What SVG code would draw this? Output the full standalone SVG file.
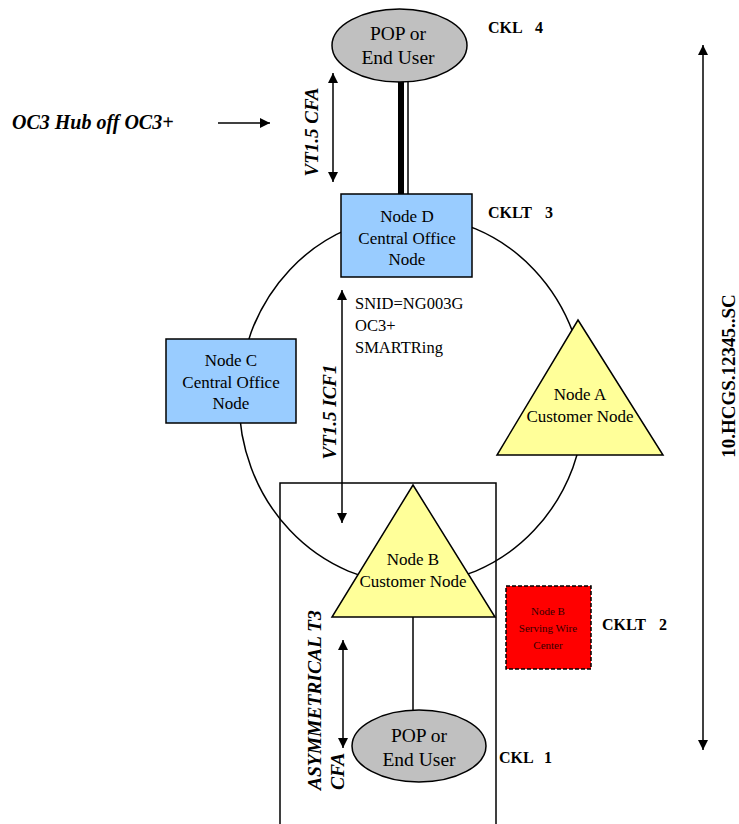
<svg xmlns="http://www.w3.org/2000/svg" width="739" height="824" viewBox="0 0 739 824">
<defs>
<marker id="ah" viewBox="0 0 10 10" refX="10" refY="5" markerWidth="10" markerHeight="10" markerUnits="userSpaceOnUse" orient="auto-start-reverse">
<path d="M0,0 L10,5 L0,10 z" fill="#000"/>
</marker>
<style>
text{font-family:"Liberation Serif","DejaVu Serif","Times New Roman",serif}
.ln{stroke:#000;stroke-width:1.5;fill:none}
.arr{stroke:#000;stroke-width:1.5;fill:none;marker-start:url(#ah);marker-end:url(#ah)}
.t{font-size:17px;fill:#000;text-anchor:middle}
.p{font-size:19.5px;fill:#000;text-anchor:middle}
.s{font-size:11px;fill:#330000;text-anchor:middle}
.ck{font-size:16px;font-weight:bold;fill:#000}
.bi{font-size:19px;font-weight:bold;font-style:italic;fill:#000}
.r{font-size:16.5px;fill:#000}
.blue{fill:#99CCFF;stroke:#000;stroke-width:1.5}
.yel{fill:#FFFF99;stroke:#000;stroke-width:1.5}
.gray{fill:#C0C0C0;stroke:#000;stroke-width:1.5}
</style>
</defs>
<rect width="739" height="824" fill="#fff"/>

<g id="connectors">
<ellipse class="ln" cx="412" cy="400" rx="173" ry="184"/>
<rect class="ln" x="280" y="483" width="216" height="345"/>
<line x1="401" y1="80" x2="401" y2="194" stroke="#000" stroke-width="6"/>
<line x1="408" y1="80" x2="408" y2="194" stroke="#000" stroke-width="1.5"/>
<line class="ln" x1="413" y1="617" x2="413" y2="711"/>
<line class="ln" x1="218" y1="123" x2="270" y2="123" style="marker-end:url(#ah)"/>
<line class="arr" x1="333" y1="73" x2="333" y2="182"/>
<line class="arr" x1="342" y1="290" x2="342" y2="523"/>
<line class="arr" x1="343" y1="640" x2="343" y2="748"/>
<line class="arr" x1="703" y1="45" x2="703" y2="750"/>
</g>

<g id="pop-top">
<ellipse class="gray" cx="399.5" cy="45.5" rx="67.5" ry="36.5"/>
<text class="p" x="398" y="40">POP or</text>
<text class="p" x="398" y="64">End User</text>
</g>

<g id="node-d">
<rect class="blue" x="341" y="194" width="131" height="83"/>
<text class="t" x="407" y="222">Node D</text>
<text class="t" x="407" y="244">Central Office</text>
<text class="t" x="407" y="265">Node</text>
</g>

<g id="node-c">
<rect class="blue" x="166" y="339" width="130" height="84"/>
<text class="t" x="231" y="366">Node C</text>
<text class="t" x="231" y="388">Central Office</text>
<text class="t" x="231" y="409">Node</text>
</g>

<g id="node-a">
<polygon class="yel" points="578,320 663,455 497,455"/>
<text class="t" x="580" y="400">Node A</text>
<text class="t" x="580" y="422">Customer Node</text>
</g>

<g id="node-b">
<polygon class="yel" points="413,485 495,617 332,617"/>
<text class="t" x="413" y="565">Node B</text>
<text class="t" x="413" y="587">Customer Node</text>
</g>

<g id="wire-center">
<rect x="506" y="586" width="85" height="83" fill="#FF0000" stroke="#000" stroke-width="1.5" stroke-dasharray="4,2"/>
<text class="s" x="548" y="615">Node B</text>
<text class="s" x="548" y="632">Serving Wire</text>
<text class="s" x="548" y="649">Center</text>
</g>

<g id="pop-bottom">
<ellipse class="gray" cx="419" cy="746" rx="67" ry="36"/>
<text class="p" x="419" y="742">POP or</text>
<text class="p" x="419" y="766">End User</text>
</g>

<g id="labels">
<text class="ck" x="488" y="33">CKL</text><text class="ck" x="535" y="33">4</text>
<text class="ck" x="488" y="218">CKLT</text><text class="ck" x="545" y="218">3</text>
<text class="ck" x="602" y="630">CKLT</text><text class="ck" x="659" y="630">2</text>
<text class="ck" x="499" y="763">CKL</text><text class="ck" x="544" y="763">1</text>
<text class="bi" x="12" y="129" style="font-size:20px">OC3 Hub off OC3+</text>
<text class="bi" transform="translate(318,132) rotate(-90)" text-anchor="middle">VT1.5 CFA</text>
<text class="bi" transform="translate(336,412) rotate(-90)" text-anchor="middle">VT1.5 ICF1</text>
<text class="bi" transform="translate(321,790) rotate(-90)" style="font-size:19.5px">ASYMMETRICAL T3</text>
<text class="bi" transform="translate(344,790) rotate(-90)" style="font-size:19.5px">CFA</text>
<text class="r" x="355" y="309">SNID=NG003G</text>
<text class="r" x="355" y="331">OC3+</text>
<text class="r" x="355" y="353">SMARTRing</text>
<text transform="translate(735,376) rotate(-90)" text-anchor="middle" style="font-size:19px;font-weight:bold">10.HCGS.12345..SC</text>
</g>
</svg>
